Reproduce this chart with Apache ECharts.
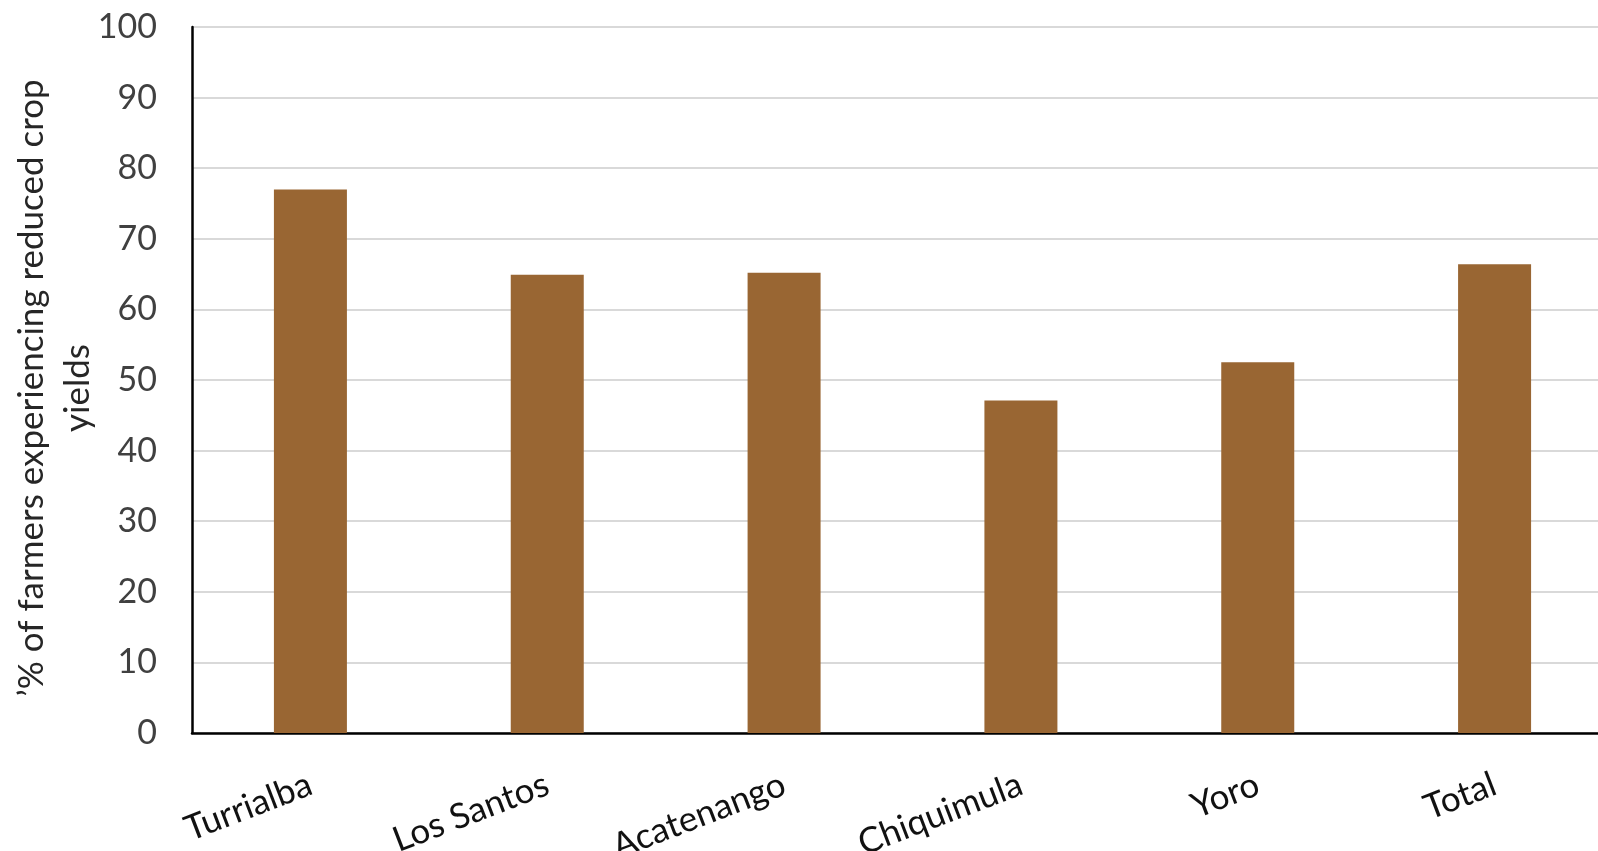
<!DOCTYPE html>
<html>
<head>
<meta charset="utf-8">
<style>
  html, body { margin: 0; padding: 0; background: #ffffff; }
  #chart { width: 1598px; height: 851px; }
</style>
<script src="https://cdn.jsdelivr.net/npm/echarts@6/dist/echarts.min.js"></script>
</head>
<body>
<div id="chart"></div>
<script>
// Sites surveyed, plus the pooled total
const categories = ['Turrialba', 'Los Santos', 'Acatenango', 'Chiquimula', 'Yoro', 'Total'];
// Share of farmers reporting reduced crop yields (%)
const reducedYieldPct = [77.0, 64.9, 65.2, 47.1, 52.5, 66.4];
// Value axis ticks
const yTicks = [0, 10, 20, 30, 40, 50, 60, 70, 80, 90, 100];

const FONT = 'Lato, "Open Sans", sans-serif';

const chart = echarts.init(document.getElementById('chart'), null, { renderer: 'canvas' });

chart.setOption({
  animation: false,
  backgroundColor: '#ffffff',
  grid: {
    left: 192, top: 27, bottom: 118, width: 1421,
    containLabel: false,
    outerBoundsMode: 'none'
  },
  xAxis: {
    type: 'category',
    data: categories,
    axisLine: { show: true, lineStyle: { color: '#000000', width: 2.5 } },
    axisTick: { show: false },
    splitLine: { show: false },
    axisLabel: {
      rotate: 21,
      margin: 50,
      interval: 0,
      color: '#111111',
      fontFamily: FONT,
      fontSize: 35
    }
  },
  yAxis: {
    type: 'value',
    min: yTicks[0],
    max: yTicks[yTicks.length - 1],
    interval: 10,
    name: '’% of farmers experiencing reduced crop\nyields',
    nameLocation: 'middle',
    nameRotate: 90,
    nameGap: 91,
    nameMoveOverlap: false,
    nameTextStyle: {
      color: '#262626',
      fontFamily: FONT,
      fontSize: 35,
      lineHeight: 46,
      padding: [0, 16, 0, 0]
    },
    axisLine: { show: true, lineStyle: { color: '#000000', width: 2.5 } },
    axisTick: { show: false },
    splitLine: { show: true, lineStyle: { color: '#d9d9d9', width: 2 } },
    axisLabel: {
      margin: 35,
      color: '#404040',
      fontFamily: FONT,
      fontSize: 34
    }
  },
  series: [{
    type: 'bar',
    data: reducedYieldPct,
    barWidth: 73,
    itemStyle: { color: '#996633' }
  }]
});
</script>
</body>
</html>
